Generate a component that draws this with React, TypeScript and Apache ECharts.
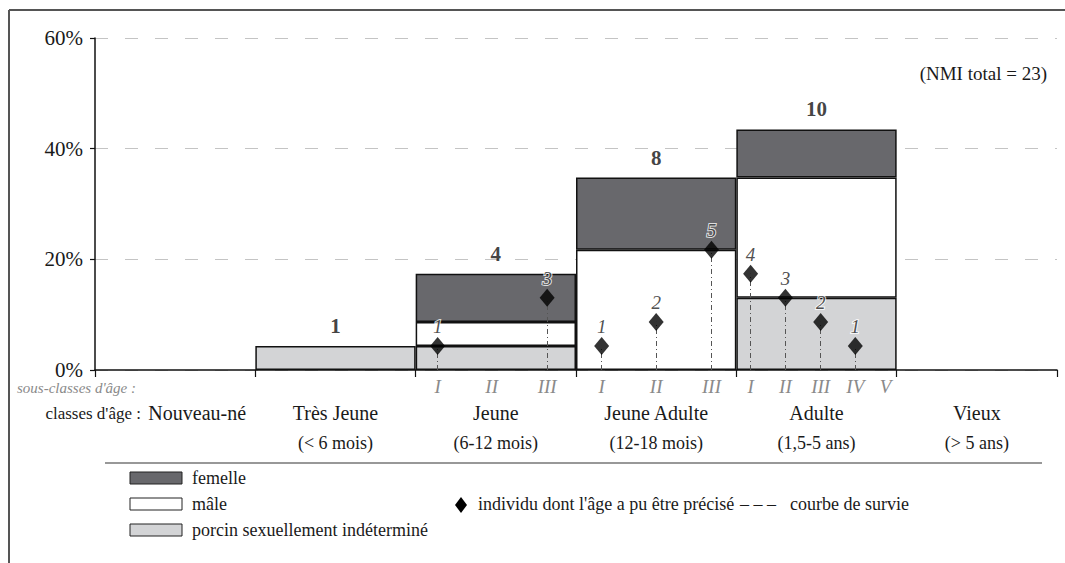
import React, { useEffect, useRef } from "react";
import * as echarts from "echarts";

const FONT = "Liberation Serif";
const TOTAL = 23;

const classNames = ["Nouveau-né", "Très Jeune", "Jeune", "Jeune Adulte", "Adulte", "Vieux"];
const classRanges = ["", "(< 6 mois)", "(6-12 mois)", "(12-18 mois)", "(1,5-5 ans)", "(> 5 ans)"];

// NMI per age class and sex
const indetCounts = [0, 1, 1, 0, 3, 0];
const maleCounts = [0, 0, 1, 5, 5, 0];
const femaleCounts = [0, 0, 2, 3, 2, 0];
const classTotals = [0, 1, 4, 8, 10, 0];

const yTicks = [0, 20, 40, 60];

// sub-classes (position on a 0..6 class scale)
const subClassNames = ["I", "II", "III", "I", "II", "III", "I", "II", "III", "IV", "V"];
const subClassPositions = [2.137, 2.474, 2.82, 3.16, 3.5, 3.845, 4.089, 4.306, 4.526, 4.742, 4.931];
// individuals whose age could be specified, per sub-class
const individualCounts = [1, 0, 3, 1, 2, 5, 4, 3, 2, 1, 0];

const pct = (n: number) => (n ? (n / TOTAL) * 100 : null);

// text placed via title components (x = anchor, y = vertical middle)
const label = (x: number, y: number, text: string, size: number, extra: any = {}) => {
  const lh = Math.round(size * 1.2);
  const base: any = {
    text,
    top: Math.round(y - lh / 2),
    padding: 0,
    itemGap: 0,
    textStyle: {
      fontFamily: FONT,
      fontSize: size,
      fontWeight: "normal",
      fontStyle: extra.fontStyle || "normal",
      color: extra.fill || "#1a1a1a",
      lineHeight: lh,
    },
  };
  if (extra.align === "right") base.right = 1065 - x;
  else base.left = x;
  return base;
};

export default function App() {
  const ref = useRef<HTMLDivElement>(null);
  useEffect(() => {
    if (!ref.current) return;
    const chart = echarts.init(ref.current, null, { renderer: "svg" });

    const diamonds = subClassPositions
      .map((x, i) => ({ x, n: individualCounts[i] }))
      .filter((d) => d.n > 0);

    const barStyle = (color: string) => ({
      color,
      borderColor: "#111",
      borderWidth: 1.5,
    });

    const option: any = {
      animation: false,
      backgroundColor: "#fff",
      textStyle: { fontFamily: FONT },
      title: [
        label(1047, 73, "(NMI total = 23)", 19, { align: "right" }),
        label(136, 388, "sous-classes d'âge :", 15, { align: "right", fontStyle: "italic", fill: "#8a8a8a" }),
        label(141, 413, "classes d'âge :", 17, { align: "right" }),
        label(192, 478, "femelle", 18),
        label(192, 504, "mâle", 18),
        label(192, 530, "porcin sexuellement indéterminé", 18),
        label(478, 504, "individu dont l'âge a pu être précisé", 18),
        label(740, 504, "– – –", 18),
        label(790, 504, "courbe de survie", 18),
      ],
      grid: { left: 95, right: 8, top: 38, bottom: 193, containLabel: false },
      xAxis: [
        {
          type: "category",
          data: classNames,
          position: "bottom",
          boundaryGap: true,
          axisLine: { show: true, lineStyle: { color: "#111", width: 1.5 } },
          axisTick: { show: true, interval: 0, length: 7, lineStyle: { color: "#111", width: 1.2 } },
          splitLine: { show: false },
          axisLabel: {
            interval: 0,
            margin: 28,
            fontFamily: FONT,
            color: "#1a1a1a",
            formatter: (value: string, idx: number) =>
              idx === 0 ? `{shift|${value}}` : `{main|${value}}\n{sub|${classRanges[idx]}}`,
            rich: {
              main: { fontFamily: FONT, fontSize: 20, lineHeight: 30, color: "#1a1a1a" },
              sub: { fontFamily: FONT, fontSize: 18, lineHeight: 30, color: "#1a1a1a" },
              shift: { fontFamily: FONT, fontSize: 20, lineHeight: 30, color: "#1a1a1a", padding: [0, 0, 0, 44] },
            },
          },
        },
        {
          type: "value",
          min: 0,
          max: 6,
          position: "bottom",
          axisLine: { show: false },
          splitLine: { show: false },
          axisTick: {
            show: true,
            inside: true,
            length: 6,
            customValues: subClassPositions,
            lineStyle: { color: "#555", width: 1 },
          },
          axisLabel: {
            show: true,
            margin: 7,
            customValues: subClassPositions,
            fontFamily: FONT,
            fontStyle: "italic",
            fontSize: 19,
            color: "#8a8a8a",
            formatter: (v: number) => {
              const i = subClassPositions.findIndex((p) => Math.abs(p - v) < 1e-6);
              return i >= 0 ? subClassNames[i] : "";
            },
          },
        },
      ],
      yAxis: {
        type: "value",
        min: 0,
        max: 60,
        interval: 20,
        axisLine: { show: true, lineStyle: { color: "#111", width: 1.5 } },
        axisTick: { show: true, length: 5, lineStyle: { color: "#111", width: 1.2 } },
        axisLabel: {
          margin: 12,
          fontFamily: FONT,
          fontSize: 21,
          color: "#1a1a1a",
          formatter: (v: number) => (yTicks.includes(v) ? `${v}%` : ""),
        },
        splitLine: { show: true, lineStyle: { color: "#c4c4c4", type: [13, 17], width: 1 } },
      },
      series: [
        {
          name: "porcin sexuellement indéterminé",
          type: "bar",
          stack: "nmi",
          xAxisIndex: 0,
          barWidth: "100%",
          barCategoryGap: "0%",
          data: indetCounts.map(pct),
          itemStyle: barStyle("#d3d4d6"),
        },
        {
          name: "mâle",
          type: "bar",
          stack: "nmi",
          xAxisIndex: 0,
          barWidth: "100%",
          barCategoryGap: "0%",
          data: maleCounts.map(pct),
          itemStyle: barStyle("#ffffff"),
        },
        {
          name: "femelle",
          type: "bar",
          stack: "nmi",
          xAxisIndex: 0,
          barWidth: "100%",
          barCategoryGap: "0%",
          data: femaleCounts.map(pct),
          itemStyle: barStyle("#68686c"),
        },
        {
          name: "totals",
          type: "scatter",
          xAxisIndex: 0,
          symbolSize: 1,
          itemStyle: { color: "rgba(0,0,0,0)" },
          data: classTotals
            .map((n, i) => (n ? { value: [i, pct(n)], n } : null))
            .filter(Boolean),
          label: {
            show: true,
            position: "top",
            distance: 9,
            fontFamily: FONT,
            fontWeight: "bold",
            fontSize: 21,
            color: "#111",
            formatter: (p: any) => String(p.data.n),
          },
          z: 5,
        },
        {
          name: "individus",
          type: "scatter",
          xAxisIndex: 1,
          symbol: "diamond",
          symbolSize: [15, 18],
          itemStyle: { color: "#000" },
          data: diamonds.map((d) => ({ value: [d.x, pct(d.n)], n: d.n })),
          label: {
            show: true,
            position: "top",
            distance: 1,
            fontFamily: FONT,
            fontStyle: "italic",
            fontSize: 19,
            color: "#222",
            textBorderColor: "#fff",
            textBorderWidth: 2,
            formatter: (p: any) => String(p.data.n),
          },
          markLine: {
            silent: true,
            symbol: ["none", "none"],
            label: { show: false },
            lineStyle: { color: "#555", type: [5, 3, 1, 3], width: 1 },
            data: diamonds.map((d) => [{ coord: [d.x, 0] }, { coord: [d.x, pct(d.n)] }]),
          },
          z: 6,
        },
      ],
      graphic: [
        { type: "line", shape: { x1: 9, y1: 10, x2: 9, y2: 563 }, style: { stroke: "#555", lineWidth: 2 } },
        { type: "line", shape: { x1: 9, y1: 10, x2: 1065, y2: 10 }, style: { stroke: "#555", lineWidth: 2 } },
        { type: "line", shape: { x1: 105, y1: 463, x2: 1042, y2: 463 }, style: { stroke: "#333", lineWidth: 1.2 } },
        { type: "rect", shape: { x: 130, y: 472, width: 52, height: 12 }, style: { fill: "#68686c", stroke: "#222", lineWidth: 1 } },
        { type: "rect", shape: { x: 130, y: 498, width: 52, height: 12 }, style: { fill: "#ffffff", stroke: "#222", lineWidth: 1 } },
        { type: "rect", shape: { x: 130, y: 524, width: 52, height: 12 }, style: { fill: "#d3d4d6", stroke: "#222", lineWidth: 1 } },
        {
          type: "polygon",
          shape: { points: [[461, 497], [467, 505], [461, 513], [455, 505]] },
          style: { fill: "#000" },
        },
      ],
    };

    chart.setOption(option);
    return () => chart.dispose();
  }, []);

  return (
    <div
      ref={ref}
      style={{ position: "fixed", left: 0, top: 0, width: 1065, height: 563, background: "#fff" }}
    />
  );
}
